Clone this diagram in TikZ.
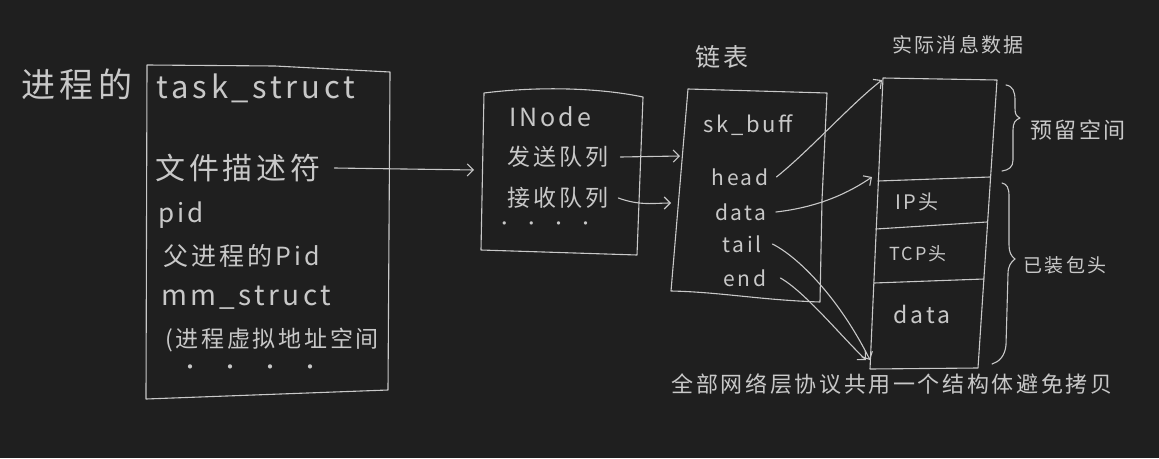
\documentclass[tikz,border=0pt]{standalone}
\usepackage{fontspec}
\setmainfont{Noto Sans CJK SC}[LetterSpace=12]
\usetikzlibrary{arrows.meta}
\definecolor{bg}{RGB}{31,31,31}
\definecolor{ink}{RGB}{200,200,200}
\begin{document}
\begin{tikzpicture}[x=1pt,y=-1pt,
  every node/.style={text=ink, inner sep=0pt},
  hand/.style={draw=ink, line width=1.1pt, line join=round, line cap=round},
  conn/.style={hand, -{Straight Barb[length=6pt,width=12pt,line width=1.1pt]}},
  lbl/.style={font=\fontsize{#1}{#1}\selectfont}]
\fill[bg] (0,0) rectangle (1159,458);
\useasboundingbox (0,0) rectangle (1159,458);

% ---- box 1: task_struct
\coordinate (b1tl) at (147,65);
\coordinate (b1tr) at (390,72);
\coordinate (b1br) at (388,390);
\coordinate (b1bl) at (146,399);
\draw[hand] (b1tl) -- (275,66) -- (b1tr) -- (b1br) -- (b1bl) -- cycle;
\node[lbl=34] (proc) at (77,84) {进程的};
\node[lbl=31] (ts) at (256,88) {task\_struct};
\node[lbl=30] (fd) at (238,168) {文件描述符};
\node[lbl=26] (pid) at (181,215) {pid};
\node[lbl=25] (ppid) at (242,256) {父进程的Pid};
\node[lbl=28] (mm) at (246,298) {mm\_struct};
\node[lbl=23] (vas) at (272,340) {(进程虚拟地址空间};
\node[lbl=20] (dots1) at (250,370) {·\quad·\quad·\quad·};

% ---- box 2: INode
\coordinate (b2tl) at (484,93);
\coordinate (b2tr) at (643,97);
\coordinate (b2br) at (637,255);
\coordinate (b2bl) at (481,250);
\draw[hand] (b2tl) .. controls (540,86) and (600,88) .. (b2tr) -- (b2br) -- (b2bl) -- cycle;
\node[lbl=25] (inode) at (550,117) {INode};
\node[lbl=23] (sendq) at (558,157) {发送队列};
\node[lbl=23] (recvq) at (558,198) {接收队列};
\node[lbl=16] (dots2) at (545,226) {·\ \ ·\ \ ·\ \ ·};

% ---- box 3: sk_buff
\coordinate (b3tl) at (688,89);
\coordinate (b3tr) at (827,93);
\coordinate (b3br) at (820,302);
\coordinate (b3bl) at (671,291);
\draw[hand] (b3tl) -- (b3tr) -- (822,200) -- (b3br) .. controls (760,300) and (720,292) .. (b3bl) -- cycle;
\node[lbl=25] (lt) at (722,57) {链表};
\node[lbl=22] (skb) at (748,125) {sk\_buff};
\node[lbl=21] (head) at (740,177) {head};
\node[lbl=21] (data) at (741,212) {data};
\node[lbl=21] (tail) at (742,244) {tail};
\node[lbl=21] (end) at (745,278) {end};

% ---- box 4: message data
\coordinate (b4tl) at (883,78);
\coordinate (b4tr) at (997,80);
\coordinate (b4br) at (978,368);
\coordinate (b4bl) at (870,369);
\draw[hand] (b4tl) -- (b4tr) -- (b4br) -- (b4bl) -- cycle;
\draw[hand] (878,181) -- (990,177);
\draw[hand] (876,229) -- (987,222);
\draw[hand] (874,283) -- (984,279);
\node[lbl=20] (real) at (958,45) {实际消息数据};
\node[lbl=20] (iph) at (917,202) {IP头};
\node[lbl=18] (tcph) at (918,254) {TCP头};
\node[lbl=23] (pdata) at (922,314) {data};

% ---- braces
\draw[hand] (1006,85) .. controls (1013,86) and (1015,92) .. (1015,100) -- (1015,108)
  .. controls (1015,114) and (1016,116) .. (1020,118)
  .. controls (1015,120) and (1013,123) .. (1013,130) -- (1013,160)
  .. controls (1013,167) and (1009,170) .. (1002,171);
\draw[hand] (1002,183) .. controls (1007,184) and (1009,188) .. (1009,196) -- (1009,245)
  .. controls (1009,252) and (1011,256) .. (1015,259)
  .. controls (1011,262) and (1008,266) .. (1008,274) -- (1006,345)
  .. controls (1005,356) and (999,362) .. (992,364);
\node[lbl=22] (resv) at (1078,130) {预留空间};
\node[lbl=19] (hdrs) at (1065,265) {已装包头};

\node[lbl=22] (note) at (892,384) {全部网络层协议共用一个结构体避免拷贝};

% ---- connectors
\coordinate (b2in) at (474,170);
\coordinate (b3ina) at (680,156);
\coordinate (b3inb) at (671,203);
\coordinate (b4div) at (872,177);
\coordinate (b4low) at (870,360);
\draw[conn] ([xshift=14pt]fd.east) -- (b2in);
\draw[conn] ([xshift=12pt]sendq.east) -- (b3ina);
\draw[conn] ([xshift=10pt]recvq.east) .. controls (640,206) and (655,203) .. (b3inb);
\draw[conn] ([xshift=8pt]head.east) .. controls (810,150) and (850,105) .. ([shift={(-1pt,-2pt)}]b4tl);
\draw[conn] ([xshift=9pt]data.east) .. controls (820,207) and (850,192) .. (b4div);
\draw[conn] ([xshift=11pt]tail.east) .. controls (800,258) and (840,300) .. (b4low);
\draw[conn] ([xshift=14pt]end.east) .. controls (805,292) and (840,335) .. ([xshift=-4pt]b4low);
\end{tikzpicture}
\end{document}
